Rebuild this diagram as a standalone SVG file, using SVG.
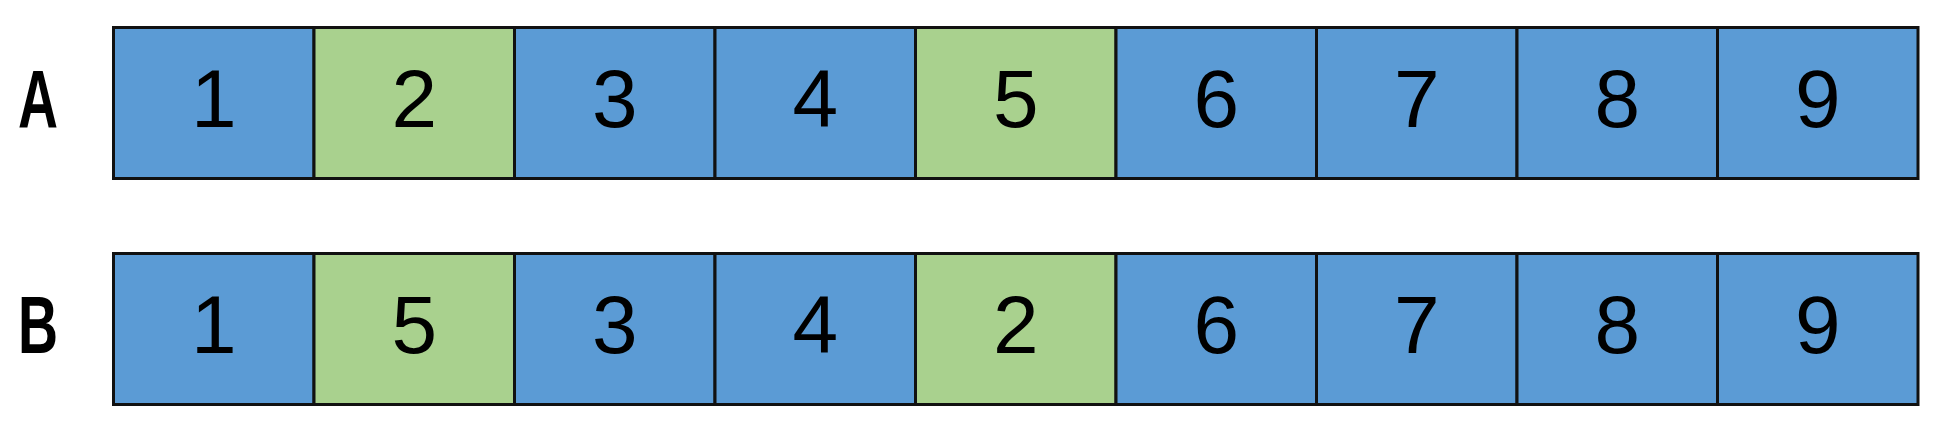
<svg xmlns="http://www.w3.org/2000/svg" width="1935" height="430" viewBox="0 0 1935 430">
<style>
.b{fill:#5B9BD5;stroke:#111;stroke-width:3}
.g{fill:#A9D18E;stroke:#111;stroke-width:3}
.t{font-family:"Liberation Sans",Arial,sans-serif;font-size:82px;fill:#000;text-anchor:middle}
.l{font-family:"Liberation Sans",Arial,sans-serif;font-size:82px;font-weight:bold;fill:#000;text-anchor:middle}
</style>
<rect width="1935" height="430" fill="#fff"/>
<g id="rowA">
<text class="l" x="38" y="127" textLength="40" lengthAdjust="spacingAndGlyphs">A</text>
<g id="A1"><rect class="b" x="113.5" y="27.5" width="200.5" height="151"/><text class="t" x="213.8" y="127">1</text></g>
<g id="A2"><rect class="g" x="314" y="27.5" width="200.5" height="151"/><text class="t" x="414.3" y="127">2</text></g>
<g id="A3"><rect class="b" x="514.5" y="27.5" width="200.5" height="151"/><text class="t" x="614.8" y="127">3</text></g>
<g id="A4"><rect class="b" x="715" y="27.5" width="200.5" height="151"/><text class="t" x="815.3" y="127">4</text></g>
<g id="A5"><rect class="g" x="915.5" y="27.5" width="200.5" height="151"/><text class="t" x="1015.8" y="127">5</text></g>
<g id="A6"><rect class="b" x="1116" y="27.5" width="200.5" height="151"/><text class="t" x="1216.3" y="127">6</text></g>
<g id="A7"><rect class="b" x="1316.5" y="27.5" width="200.5" height="151"/><text class="t" x="1416.8" y="127">7</text></g>
<g id="A8"><rect class="b" x="1517" y="27.5" width="200.5" height="151"/><text class="t" x="1617.3" y="127">8</text></g>
<g id="A9"><rect class="b" x="1717.5" y="27.5" width="200.5" height="151"/><text class="t" x="1817.8" y="127">9</text></g>
</g>
<g id="rowB">
<text class="l" x="38" y="353" textLength="40" lengthAdjust="spacingAndGlyphs">B</text>
<g id="B1"><rect class="b" x="113.5" y="253.5" width="200.5" height="151"/><text class="t" x="213.8" y="353">1</text></g>
<g id="B2"><rect class="g" x="314" y="253.5" width="200.5" height="151"/><text class="t" x="414.3" y="353">5</text></g>
<g id="B3"><rect class="b" x="514.5" y="253.5" width="200.5" height="151"/><text class="t" x="614.8" y="353">3</text></g>
<g id="B4"><rect class="b" x="715" y="253.5" width="200.5" height="151"/><text class="t" x="815.3" y="353">4</text></g>
<g id="B5"><rect class="g" x="915.5" y="253.5" width="200.5" height="151"/><text class="t" x="1015.8" y="353">2</text></g>
<g id="B6"><rect class="b" x="1116" y="253.5" width="200.5" height="151"/><text class="t" x="1216.3" y="353">6</text></g>
<g id="B7"><rect class="b" x="1316.5" y="253.5" width="200.5" height="151"/><text class="t" x="1416.8" y="353">7</text></g>
<g id="B8"><rect class="b" x="1517" y="253.5" width="200.5" height="151"/><text class="t" x="1617.3" y="353">8</text></g>
<g id="B9"><rect class="b" x="1717.5" y="253.5" width="200.5" height="151"/><text class="t" x="1817.8" y="353">9</text></g>
</g>
<g id="connectors"/>
</svg>
